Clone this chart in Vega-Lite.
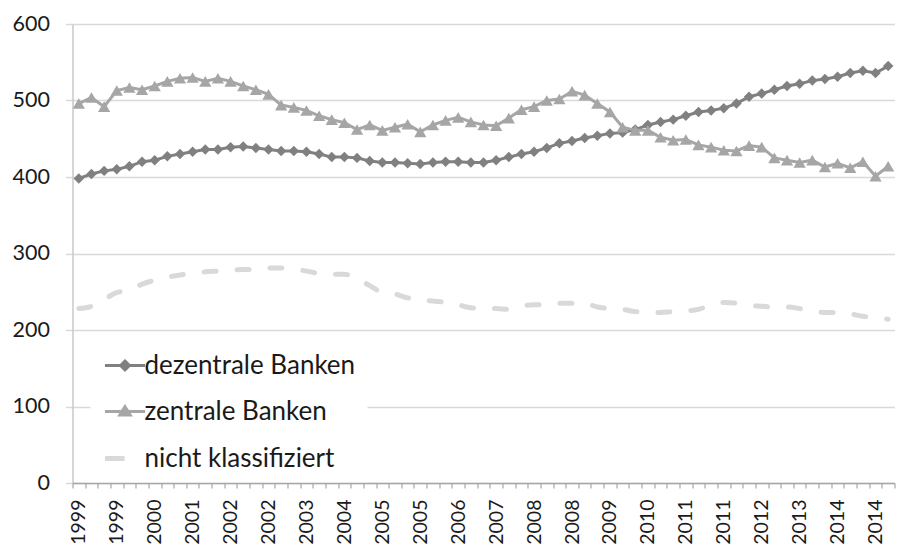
{
  "$schema": "https://vega.github.io/schema/vega-lite/v6.json",
  "width": 822,
  "height": 459,
  "autosize": {"type": "none"},
  "padding": {"left": 72.5, "top": 24, "right": 27.5, "bottom": 64},
  "background": "white",
  "config": {"view": {"stroke": null}, "font": "Lato"},
  "data": {"values": [
    {"q":"1999-Q1","dezentrale Banken":398,"zentrale Banken":496,"nicht klassifiziert":228},
    {"q":"1999-Q2","dezentrale Banken":404,"zentrale Banken":504,"nicht klassifiziert":231},
    {"q":"1999-Q3","dezentrale Banken":408,"zentrale Banken":492,"nicht klassifiziert":240},
    {"q":"1999-Q4","dezentrale Banken":410,"zentrale Banken":513,"nicht klassifiziert":249},
    {"q":"2000-Q1","dezentrale Banken":414,"zentrale Banken":517,"nicht klassifiziert":252},
    {"q":"2000-Q2","dezentrale Banken":420,"zentrale Banken":514,"nicht klassifiziert":260},
    {"q":"2000-Q3","dezentrale Banken":422,"zentrale Banken":519,"nicht klassifiziert":265},
    {"q":"2000-Q4","dezentrale Banken":427,"zentrale Banken":525,"nicht klassifiziert":269},
    {"q":"2001-Q1","dezentrale Banken":430,"zentrale Banken":529,"nicht klassifiziert":272},
    {"q":"2001-Q2","dezentrale Banken":433,"zentrale Banken":530,"nicht klassifiziert":274},
    {"q":"2001-Q3","dezentrale Banken":436,"zentrale Banken":525,"nicht klassifiziert":276},
    {"q":"2001-Q4","dezentrale Banken":436,"zentrale Banken":529,"nicht klassifiziert":277},
    {"q":"2002-Q1","dezentrale Banken":439,"zentrale Banken":525,"nicht klassifiziert":278},
    {"q":"2002-Q2","dezentrale Banken":440,"zentrale Banken":519,"nicht klassifiziert":279},
    {"q":"2002-Q3","dezentrale Banken":438,"zentrale Banken":514,"nicht klassifiziert":279},
    {"q":"2002-Q4","dezentrale Banken":436,"zentrale Banken":508,"nicht klassifiziert":281},
    {"q":"2003-Q1","dezentrale Banken":434,"zentrale Banken":494,"nicht klassifiziert":281},
    {"q":"2003-Q2","dezentrale Banken":434,"zentrale Banken":491,"nicht klassifiziert":280},
    {"q":"2003-Q3","dezentrale Banken":433,"zentrale Banken":487,"nicht klassifiziert":277},
    {"q":"2003-Q4","dezentrale Banken":430,"zentrale Banken":480,"nicht klassifiziert":274},
    {"q":"2004-Q1","dezentrale Banken":426,"zentrale Banken":475,"nicht klassifiziert":273},
    {"q":"2004-Q2","dezentrale Banken":426,"zentrale Banken":471,"nicht klassifiziert":273},
    {"q":"2004-Q3","dezentrale Banken":425,"zentrale Banken":462,"nicht klassifiziert":267},
    {"q":"2004-Q4","dezentrale Banken":421,"zentrale Banken":468,"nicht klassifiziert":258},
    {"q":"2005-Q1","dezentrale Banken":419,"zentrale Banken":461,"nicht klassifiziert":249},
    {"q":"2005-Q2","dezentrale Banken":419,"zentrale Banken":465,"nicht klassifiziert":247},
    {"q":"2005-Q3","dezentrale Banken":418,"zentrale Banken":469,"nicht klassifiziert":242},
    {"q":"2005-Q4","dezentrale Banken":417,"zentrale Banken":459,"nicht klassifiziert":239},
    {"q":"2006-Q1","dezentrale Banken":419,"zentrale Banken":468,"nicht klassifiziert":238},
    {"q":"2006-Q2","dezentrale Banken":420,"zentrale Banken":474,"nicht klassifiziert":236},
    {"q":"2006-Q3","dezentrale Banken":420,"zentrale Banken":478,"nicht klassifiziert":233},
    {"q":"2006-Q4","dezentrale Banken":419,"zentrale Banken":472,"nicht klassifiziert":229},
    {"q":"2007-Q1","dezentrale Banken":419,"zentrale Banken":468,"nicht klassifiziert":228},
    {"q":"2007-Q2","dezentrale Banken":422,"zentrale Banken":467,"nicht klassifiziert":228},
    {"q":"2007-Q3","dezentrale Banken":426,"zentrale Banken":477,"nicht klassifiziert":227},
    {"q":"2007-Q4","dezentrale Banken":430,"zentrale Banken":488,"nicht klassifiziert":231},
    {"q":"2008-Q1","dezentrale Banken":433,"zentrale Banken":492,"nicht klassifiziert":233},
    {"q":"2008-Q2","dezentrale Banken":438,"zentrale Banken":500,"nicht klassifiziert":233},
    {"q":"2008-Q3","dezentrale Banken":444,"zentrale Banken":502,"nicht klassifiziert":235},
    {"q":"2008-Q4","dezentrale Banken":447,"zentrale Banken":512,"nicht klassifiziert":235},
    {"q":"2009-Q1","dezentrale Banken":451,"zentrale Banken":507,"nicht klassifiziert":235},
    {"q":"2009-Q2","dezentrale Banken":454,"zentrale Banken":496,"nicht klassifiziert":230},
    {"q":"2009-Q3","dezentrale Banken":457,"zentrale Banken":485,"nicht klassifiziert":228},
    {"q":"2009-Q4","dezentrale Banken":458,"zentrale Banken":465,"nicht klassifiziert":227},
    {"q":"2010-Q1","dezentrale Banken":462,"zentrale Banken":461,"nicht klassifiziert":224},
    {"q":"2010-Q2","dezentrale Banken":468,"zentrale Banken":461,"nicht klassifiziert":223},
    {"q":"2010-Q3","dezentrale Banken":472,"zentrale Banken":452,"nicht klassifiziert":223},
    {"q":"2010-Q4","dezentrale Banken":475,"zentrale Banken":448,"nicht klassifiziert":224},
    {"q":"2011-Q1","dezentrale Banken":480,"zentrale Banken":449,"nicht klassifiziert":225},
    {"q":"2011-Q2","dezentrale Banken":485,"zentrale Banken":442,"nicht klassifiziert":227},
    {"q":"2011-Q3","dezentrale Banken":487,"zentrale Banken":439,"nicht klassifiziert":233},
    {"q":"2011-Q4","dezentrale Banken":490,"zentrale Banken":435,"nicht klassifiziert":236},
    {"q":"2012-Q1","dezentrale Banken":496,"zentrale Banken":434,"nicht klassifiziert":235},
    {"q":"2012-Q2","dezentrale Banken":505,"zentrale Banken":441,"nicht klassifiziert":232},
    {"q":"2012-Q3","dezentrale Banken":509,"zentrale Banken":439,"nicht klassifiziert":231},
    {"q":"2012-Q4","dezentrale Banken":514,"zentrale Banken":425,"nicht klassifiziert":230},
    {"q":"2013-Q1","dezentrale Banken":519,"zentrale Banken":422,"nicht klassifiziert":230},
    {"q":"2013-Q2","dezentrale Banken":522,"zentrale Banken":419,"nicht klassifiziert":228},
    {"q":"2013-Q3","dezentrale Banken":526,"zentrale Banken":422,"nicht klassifiziert":225},
    {"q":"2013-Q4","dezentrale Banken":528,"zentrale Banken":413,"nicht klassifiziert":223},
    {"q":"2014-Q1","dezentrale Banken":531,"zentrale Banken":418,"nicht klassifiziert":223},
    {"q":"2014-Q2","dezentrale Banken":536,"zentrale Banken":412,"nicht klassifiziert":221},
    {"q":"2014-Q3","dezentrale Banken":539,"zentrale Banken":420,"nicht klassifiziert":218},
    {"q":"2014-Q4","dezentrale Banken":536,"zentrale Banken":401,"nicht klassifiziert":216},
    {"q":"2015-Q1","dezentrale Banken":545,"zentrale Banken":414,"nicht klassifiziert":214}
  ]},
  "transform": [
    {"fold": ["dezentrale Banken", "zentrale Banken", "nicht klassifiziert"], "as": ["series", "value"]}
  ],
  "encoding": {
    "x": {
      "field": "q", "type": "ordinal", "sort": null,
      "scale": {"type": "band", "paddingInner": 0, "paddingOuter": 0},
      "axis": {
        "title": null,
        "zindex": 2,
        "labelAngle": -90,
        "labelExpr": "((toNumber(substring(datum.value,0,4))-1999)*4+toNumber(substring(datum.value,6,7))-1)%3==0 ? substring(datum.value,0,4) : ''",
        "labelOverlap": false,
        "tickBand": "extent",
        "tickSize": 5,
        "tickColor": "#a6a6a6",
        "tickWidth": 1.2,
        "domainColor": "#a6a6a6",
        "domainWidth": 1.5,
        "labelFont": "Lato",
        "labelFontSize": 19.5,
        "labelColor": "#1a1a1a",
        "labelPadding": 11,
        "grid": false
      }
    },
    "y": {
      "field": "value", "type": "quantitative",
      "scale": {"domain": [0, 600], "nice": false},
      "axis": {
        "title": null,
        "values": [0, 100, 200, 300, 400, 500, 600],
        "grid": true,
        "gridColor": "#d9d9d9",
        "gridWidth": 1.5,
        "tickSize": 7,
        "tickColor": "#d9d9d9",
        "tickWidth": 1.5,
        "domainColor": "#c8c8c8",
        "domainWidth": 1.5,
        "labelFont": "Lato",
        "labelFontSize": 21.5,
        "labelPadding": 16,
        "labelColor": "#1a1a1a"
      }
    }
  },
  "layer": [
    {
      "transform": [{"filter": "datum.series === 'dezentrale Banken'"}],
      "mark": {"type": "line", "color": "#808080", "strokeWidth": 3}
    },
    {
      "transform": [{"filter": "datum.series === 'dezentrale Banken'"}],
      "mark": {"type": "point", "shape": "diamond", "filled": true, "color": "#808080", "size": 110, "opacity": 1}
    },
    {
      "transform": [{"filter": "datum.series === 'zentrale Banken'"}],
      "mark": {"type": "line", "color": "#a6a6a6", "strokeWidth": 3}
    },
    {
      "transform": [{"filter": "datum.series === 'zentrale Banken'"}],
      "mark": {"type": "point", "shape": "triangle-up", "filled": true, "color": "#a6a6a6", "size": 150, "opacity": 1}
    },
    {
      "transform": [{"filter": "datum.series === 'nicht klassifiziert'"}],
      "mark": {"type": "line", "color": "#d9d9d9", "strokeWidth": 5, "strokeDash": [12, 21], "strokeCap": "round", "interpolate": "monotone"}
    },
    {
      "mark": {"type": "point", "filled": true, "opacity": 0},
      "encoding": {
        "shape": {
          "field": "series", "type": "nominal",
          "scale": {
            "domain": ["dezentrale Banken", "zentrale Banken", "nicht klassifiziert"],
            "range": ["M-1,0L1,0M0,-0.22L0.22,0L0,0.22L-0.22,0Z", "M-1,0L1,0M0,-0.24L0.26,0.18L-0.26,0.18Z", "M-1,0L-0.02,0"]
          },
          "legend": {"title": null, "orient": "none", "legendX": 18, "legendY": 308, "fillColor": "white", "padding": 12, "symbolSize": 1600, "symbolOpacity": 1, "labelFont": "Lato", "labelFontSize": 26, "labelColor": "#1a1a1a", "labelLimit": 0, "rowPadding": 11, "labelOffset": -3, "zindex": 1}
        },
        "color": {
          "field": "series", "type": "nominal",
          "scale": {
            "domain": ["dezentrale Banken", "zentrale Banken", "nicht klassifiziert"],
            "range": ["#808080", "#a6a6a6", "#d9d9d9"]
          },
          "legend": {"title": null, "orient": "none", "legendX": 18, "legendY": 308, "fillColor": "white", "padding": 12, "symbolSize": 1600, "symbolOpacity": 1, "labelFont": "Lato", "labelFontSize": 26, "labelColor": "#1a1a1a", "labelLimit": 0, "rowPadding": 11, "labelOffset": -3, "zindex": 1}
        },
        "stroke": {
          "field": "series", "type": "nominal",
          "scale": {
            "domain": ["dezentrale Banken", "zentrale Banken", "nicht klassifiziert"],
            "range": ["#808080", "#a6a6a6", "#d9d9d9"]
          },
          "legend": {"title": null, "orient": "none", "legendX": 18, "legendY": 308, "fillColor": "white", "padding": 12, "symbolSize": 1600, "symbolOpacity": 1, "labelFont": "Lato", "labelFontSize": 26, "labelColor": "#1a1a1a", "labelLimit": 0, "rowPadding": 11, "labelOffset": -3, "zindex": 1}
        },
        "strokeWidth": {
          "field": "series", "type": "nominal",
          "scale": {
            "type": "ordinal",
            "domain": ["dezentrale Banken", "zentrale Banken", "nicht klassifiziert"],
            "range": [3, 3, 5]
          },
          "legend": {"title": null, "orient": "none", "legendX": 18, "legendY": 308, "fillColor": "white", "padding": 12, "symbolSize": 1600, "symbolOpacity": 1, "labelFont": "Lato", "labelFontSize": 26, "labelColor": "#1a1a1a", "labelLimit": 0, "rowPadding": 11, "labelOffset": -3, "zindex": 1}
        }
      }
    }
  ]
}
